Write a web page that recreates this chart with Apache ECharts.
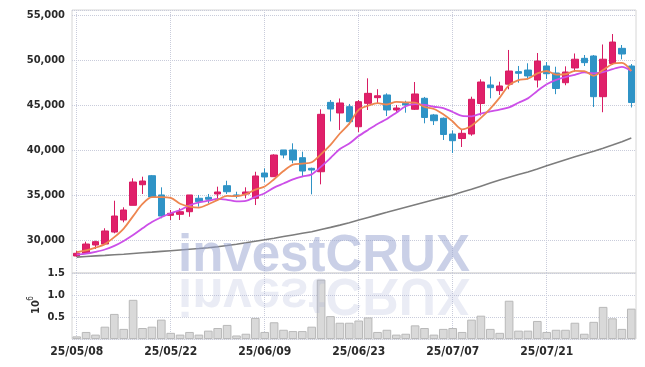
<!DOCTYPE html>
<html><head><meta charset="utf-8">
<script src="https://cdn.jsdelivr.net/npm/echarts@6/dist/echarts.min.js"></script>
<style>html,body{margin:0;padding:0;background:#fff}#c{width:645px;height:367px}</style>
</head><body><div id="c"></div>
<script>
const dates = ['25/05/08','25/05/09','25/05/12','25/05/13','25/05/14','25/05/15','25/05/16','25/05/19','25/05/20','25/05/21',
'25/05/22','25/05/23','25/05/26','25/05/27','25/05/28','25/05/29','25/05/30','25/06/02','25/06/04','25/06/05',
'25/06/09','25/06/10','25/06/11','25/06/12','25/06/13','25/06/16','25/06/17','25/06/18','25/06/19','25/06/20',
'25/06/23','25/06/24','25/06/25','25/06/26','25/06/27','25/06/30','25/07/01','25/07/02','25/07/03','25/07/04',
'25/07/07','25/07/08','25/07/09','25/07/10','25/07/11','25/07/14','25/07/15','25/07/16','25/07/17','25/07/18',
'25/07/21','25/07/22','25/07/23','25/07/24','25/07/25','25/07/28','25/07/29','25/07/30','25/07/31','25/08/01'];

const opens = [28280,28580,29500,29610,30940,32280,33910,36200,37200,35060,
32800,32910,33200,34690,34800,35170,36090,35060,35170,34690,
37500,37090,40060,40060,39200,38020,37640,45350,44170,44870,
42640,45240,45870,46170,44500,45240,44580,45800,43950,43580,
41830,41330,41830,45220,47280,46650,47370,48760,48940,47830,
49390,48610,47530,49170,50240,50500,45980,49670,51350,49390];

const closes = [28580,29610,29870,31060,32720,33390,36500,36610,34840,32720,
33020,33200,35060,34310,34580,35390,35420,34950,35390,37170,
37060,39500,39500,38940,37720,37830,44020,44610,45280,43200,
45420,46350,46080,44500,44720,45060,46280,43670,43310,41780,
41090,41910,45690,47610,46980,47170,48830,48580,48280,49940,
48530,46890,48720,50140,49760,45980,50140,52050,50720,45330];

const highs = [28850,29870,29980,31360,34420,33690,36910,37090,37280,35910,
33390,33580,35060,35060,35170,35980,36640,35420,35910,37640,
38020,39580,40060,40800,39870,38090,44580,45610,45780,45170,
45610,48020,46810,46350,45060,45530,47610,45950,44060,43670,
42220,42280,45980,47910,48220,47640,51170,49390,49690,50830,
49830,49310,49350,50780,50610,50610,51780,52940,51720,49610];

const lows = [28170,28500,29060,29530,30800,32020,33910,35170,34840,32470,
32280,32280,32640,33760,34130,34420,35170,34690,34690,33940,
36530,37060,39130,38580,37090,35130,36240,43230,42280,42890,
42060,44500,45240,43830,44200,44200,44500,43020,42830,41170,
39720,40390,41640,43890,45800,46170,46800,47530,47890,47000,
47950,46260,47250,48760,49390,44830,44250,49500,50130,44780];

// volume in millions of shares
const volumes = [0.06,0.16,0.10,0.28,0.57,0.23,0.89,0.25,0.28,0.44,
0.14,0.10,0.16,0.10,0.19,0.25,0.32,0.08,0.12,0.48,
0.16,0.38,0.21,0.18,0.18,0.28,1.35,0.52,0.37,0.37,
0.42,0.49,0.16,0.21,0.10,0.12,0.31,0.25,0.10,0.23,
0.25,0.16,0.44,0.53,0.23,0.14,0.87,0.19,0.19,0.41,
0.16,0.21,0.21,0.37,0.12,0.39,0.73,0.47,0.23,0.69];

const ma5 = [28700,28900,29200,29600,30370,31330,32710,34060,34810,34810,
34740,34080,33770,33660,34030,34510,34950,34930,35150,35660,
36000,36810,37720,38430,38540,38700,39600,40620,41890,42990,
44510,44970,45270,45110,45410,45340,45330,44850,44610,44020,
43230,42350,42760,43620,44660,45870,47260,47830,47970,48560,
48830,48440,48470,48840,48810,48300,48950,49610,49730,48840];

const ma10 = [28450,28550,28750,29000,29400,29950,30600,31350,32050,32590,
33030,33390,33910,34240,34420,34620,34520,34350,34400,34850,
35250,35880,36330,36790,37100,37350,38210,39170,40160,40770,
41600,42290,42950,43500,44200,44920,45150,45060,44860,44720,
44280,43840,43800,44110,44340,44550,44800,45300,45790,46610,
47350,47850,48150,48410,48680,48570,48700,49040,49290,48830];

const ma60 = [28150,28220,28290,28350,28420,28480,28560,28640,28710,28790,
28870,28950,29030,29110,29200,29300,29440,29590,29750,29920,
30090,30260,30440,30620,30800,30980,31220,31460,31710,31980,
32270,32560,32850,33130,33420,33700,33980,34250,34520,34790,
35060,35380,35700,36040,36380,36720,37030,37330,37620,37950,
38300,38640,38980,39300,39620,39920,40250,40600,40980,41390];

const FONT = '"DejaVu Sans Condensed", "DejaVu Sans", sans-serif';
const GRIDC = '#c9ccdb';
const candleData = dates.map((d, i) => [opens[i], closes[i], lows[i], highs[i]]);

const chart = echarts.init(document.getElementById('c'), null, {renderer: 'canvas'});
chart.setOption({
  animation: false,
  grid: [
    {left: 72, right: 9, top: 10, height: 263, show: true, borderColor: '#d6d6d6', borderWidth: 1},
    {left: 72, right: 9, top: 273, height: 66, show: true, borderColor: '#d6d6d6', borderWidth: 1}
  ],
  xAxis: [
    {type: 'category', data: dates, gridIndex: 0, boundaryGap: true,
     axisLine: {show: false}, axisTick: {show: false}, axisLabel: {show: false, interval: 9},
     splitLine: {show: true, interval: 9, alignWithLabel: true, lineStyle: {type: 'dotted', color: GRIDC}}},
    {type: 'category', data: dates, gridIndex: 1, boundaryGap: true,
     axisLine: {show: false}, axisTick: {show: false},
     axisLabel: {interval: 9, fontFamily: FONT, fontWeight: 'bold', fontSize: 12, color: '#2a2a2a', margin: 7},
     splitLine: {show: true, interval: 9, alignWithLabel: true, lineStyle: {type: 'dotted', color: GRIDC}}}
  ],
  yAxis: [
    {type: 'value', gridIndex: 0, min: 26390, max: 55610, splitNumber: 6, scale: true,
     axisLine: {show: false}, axisTick: {show: false},
     axisLabel: {showMinLabel: false, showMaxLabel: false, fontFamily: FONT, fontWeight: 'bold', fontSize: 11, color: '#2a2a2a', margin: 7,
       formatter: v => v.toLocaleString('en-US')},
     splitLine: {lineStyle: {type: 'dotted', color: GRIDC}}},
    {type: 'value', gridIndex: 1, min: 0, max: 1.5, interval: 0.5,
     axisLine: {show: false}, axisTick: {show: false},
     axisLabel: {showMinLabel: false, fontFamily: FONT, fontWeight: 'bold', fontSize: 11, color: '#2a2a2a', margin: 7,
       formatter: v => v.toFixed(1)},
     splitLine: {lineStyle: {type: 'dotted', color: GRIDC}}}
  ],
  series: [
    {type: 'candlestick', xAxisIndex: 0, yAxisIndex: 0, data: candleData, barWidth: '72%',
     itemStyle: {color: '#e0206a', color0: '#2f93c6', borderColor: '#d81c63', borderColor0: '#2f93c6', borderWidth: 1}},
    {type: 'line', xAxisIndex: 0, yAxisIndex: 0, data: ma60, symbol: 'none', smooth: false,
     lineStyle: {color: '#7d7d7d', width: 1.6}},
    {type: 'line', xAxisIndex: 0, yAxisIndex: 0, data: ma10, symbol: 'none', smooth: 0.3,
     lineStyle: {color: '#cc4fe8', width: 1.8}},
    {type: 'line', xAxisIndex: 0, yAxisIndex: 0, data: ma5, symbol: 'none', smooth: 0.3,
     lineStyle: {color: '#ee8650', width: 1.8}},
    {type: 'bar', xAxisIndex: 1, yAxisIndex: 1, data: volumes, barCategoryGap: '8%',
     itemStyle: {color: '#d9d9d9', borderColor: '#b9b9b9', borderWidth: 1}}
  ],
  graphic: [
    {type: 'text', x: 178, y: 274, z: 100, silent: true,
     style: {text: 'investCRUX', x: 0, y: -17, font: 'bold 51px "Liberation Sans", Arial, sans-serif',
       fill: 'rgba(150,162,208,0.5)', textVerticalAlign: 'middle', textAlign: 'left'}},
    {type: 'text', x: 178, y: 276, scaleY: -1, z: 100, silent: true,
     style: {text: 'investCRUX', x: 0, y: -17, font: 'bold 51px "Liberation Sans", Arial, sans-serif',
       fill: 'rgba(160,168,210,0.22)', textVerticalAlign: 'middle', textAlign: 'left'}},
    {type: 'text', x: 36, y: 307, rotation: Math.PI / 2, silent: true,
     style: {text: '10', font: 'bold 11px "DejaVu Sans Condensed", sans-serif', fill: '#2a2a2a',
       textAlign: 'center', textVerticalAlign: 'middle'}},
    {type: 'text', x: 30.5, y: 298.5, rotation: Math.PI / 2, silent: true,
     style: {text: '6', font: '8px "DejaVu Sans Condensed", sans-serif', fill: '#2a2a2a',
       textAlign: 'center', textVerticalAlign: 'middle'}}
  ]
});
</script></body></html>
